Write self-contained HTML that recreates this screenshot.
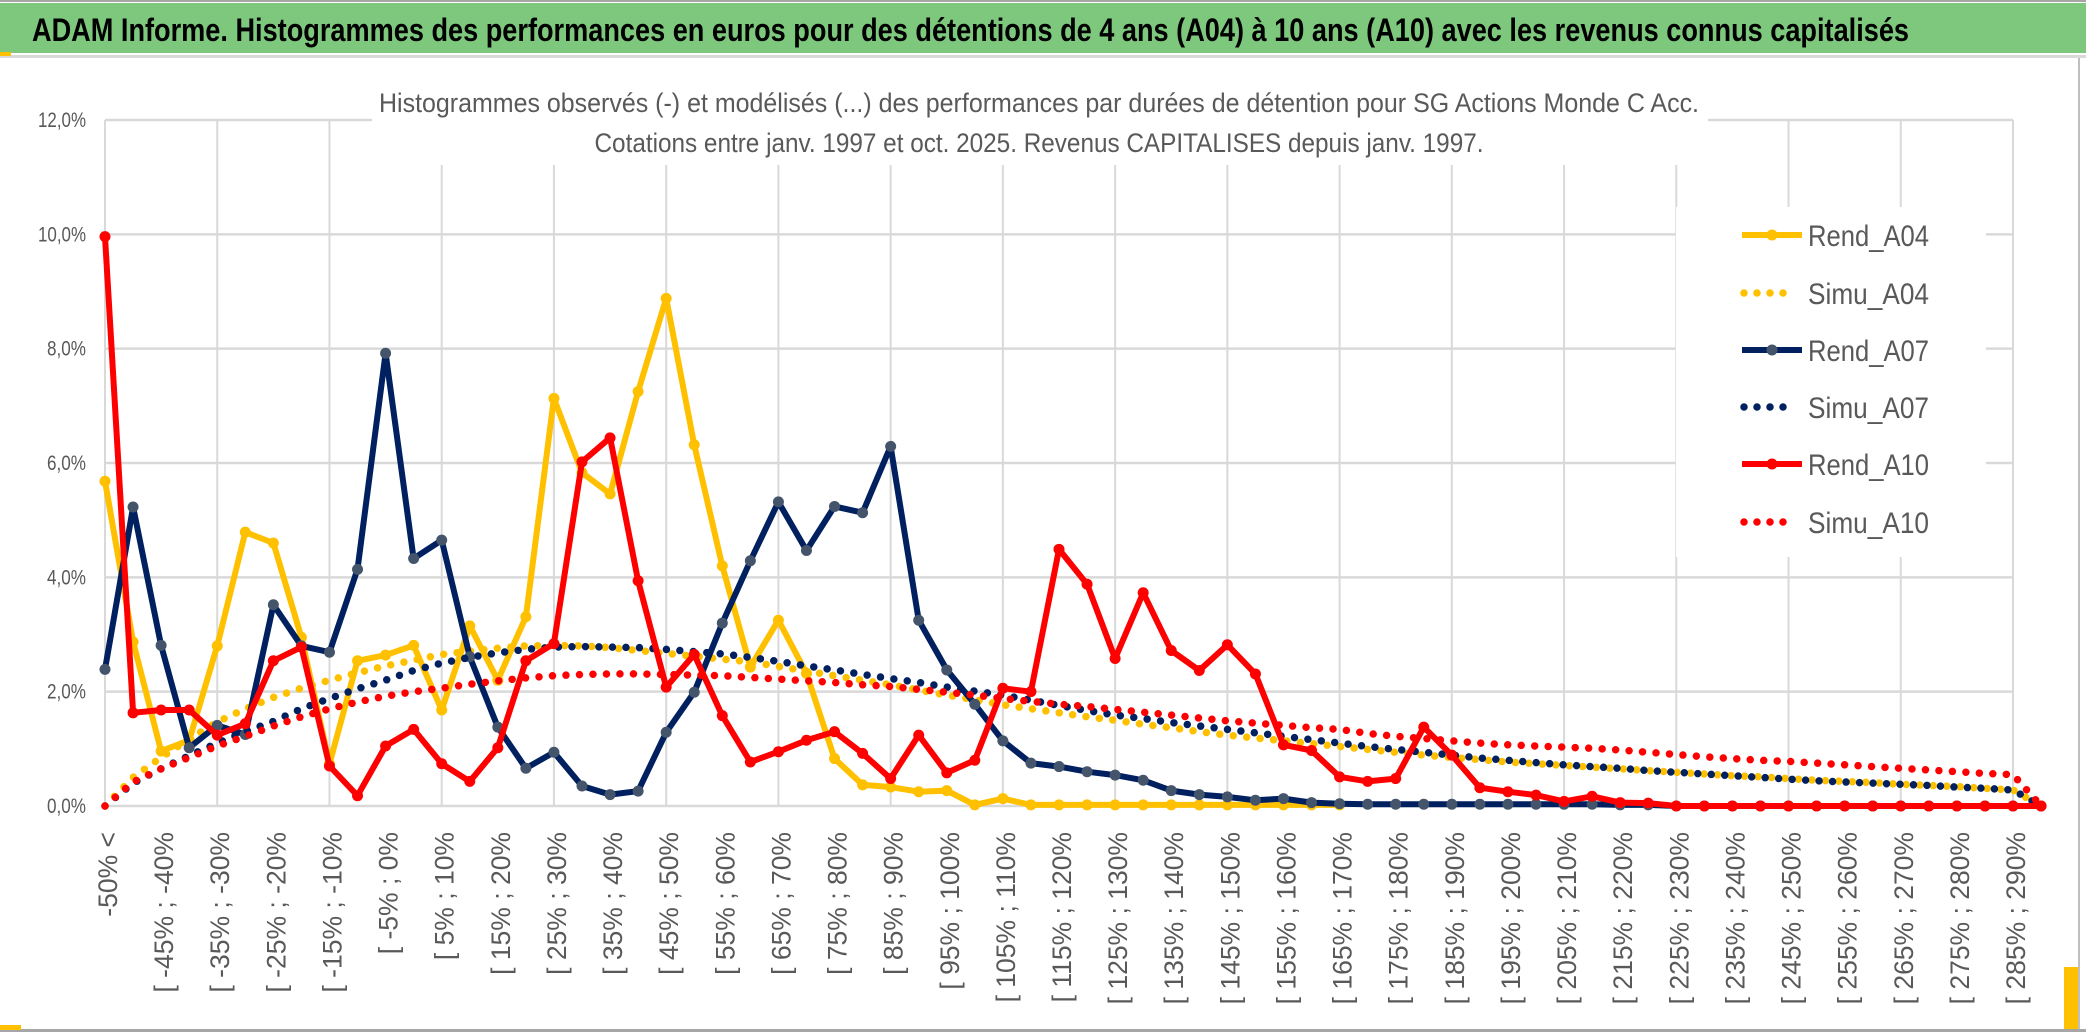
<!DOCTYPE html>
<html><head><meta charset="utf-8"><style>
html,body{margin:0;padding:0;background:#fff;}
svg{display:block;}
</style></head><body>
<svg id="chart" width="2086" height="1033" viewBox="0 0 2086 1033" xmlns="http://www.w3.org/2000/svg">
<rect x="0" y="0" width="2086" height="1033" fill="#fff"/>
<rect x="0" y="0" width="2086" height="2" fill="#a6a6a6"/>
<rect x="0" y="3" width="2086" height="50" fill="#7ec87e"/>
<rect x="0" y="55" width="2086" height="3" fill="#d9d9d9"/>
<rect x="0" y="52" width="11" height="4" fill="#ffc000"/>
<text x="32" y="41" font-family="'Liberation Sans Narrow','Liberation Sans',sans-serif" font-weight="bold" font-size="32" fill="#000" textLength="1877" lengthAdjust="spacingAndGlyphs">ADAM Informe. Histogrammes des performances en euros pour des détentions de 4 ans (A04) à 10 ans (A10) avec les revenus connus capitalisés</text>
<rect x="2078" y="58" width="2" height="972" fill="#bfbfbf"/>
<rect x="0" y="1029" width="2086" height="3" fill="#a6a6a6"/>
<rect x="0" y="1025" width="21" height="5" fill="#ffc000"/>
<rect x="2064" y="967" width="14" height="62" fill="#ffc000"/>
<g id="grid"></g>
<rect x="372" y="115" width="1336" height="50" fill="#fff"/>
<text x="1039" y="112" text-anchor="middle" font-family="'Liberation Sans Narrow','Liberation Sans',sans-serif" font-size="27" fill="#595959" textLength="1320" lengthAdjust="spacingAndGlyphs">Histogrammes observés (-) et modélisés (...) des performances par durées de détention pour SG Actions Monde C Acc.</text>
<text x="1039" y="152" text-anchor="middle" font-family="'Liberation Sans Narrow','Liberation Sans',sans-serif" font-size="27" fill="#595959" textLength="889" lengthAdjust="spacingAndGlyphs">Cotations entre janv. 1997 et oct. 2025. Revenus CAPITALISES depuis janv. 1997.</text>
<g id="series"></g>
<g id="legend"></g>
</svg>
<script>
const categories = ["-50% <"];
for (let k = -50; k < 290; k += 5) categories.push("[ " + k + "% ; " + (k + 5) + "%");
const yTicks = [0, 2, 4, 6, 8, 10, 12];
const yTickLabels = ["0,0%", "2,0%", "4,0%", "6,0%", "8,0%", "10,0%", "12,0%"];
const rendA04 = [5.68,2.87,0.96,1.15,2.8,4.79,4.6,2.95,0.74,2.54,2.64,2.81,1.68,3.15,2.2,3.31,7.13,5.83,5.46,7.25,8.88,6.32,4.2,2.43,3.25,2.32,0.83,0.37,0.33,0.25,0.27,0.02,0.13,0.02,0.02,0.02,0.02,0.02,0.02,0.02,0.02,0.02,0.02,0.02,0.02,null,null,null,null,null,null,null,null,null,null,null,null,null,null,null,null,null,null,null,null,null,null,null,null,null];
const simuA04 = [0,0.5,0.85,1.17,1.47,1.7,1.9,2.06,2.2,2.33,2.45,2.55,2.65,2.71,2.76,2.8,2.81,2.8,2.77,2.72,2.67,2.62,2.57,2.52,2.44,2.36,2.28,2.2,2.12,2.03,1.94,1.86,1.77,1.7,1.63,1.56,1.5,1.43,1.37,1.3,1.24,1.19,1.14,1.09,1.04,0.99,0.94,0.89,0.85,0.81,0.77,0.74,0.71,0.68,0.65,0.62,0.59,0.56,0.53,0.51,0.48,0.45,0.43,0.41,0.38,0.36,0.34,0.31,0.28,0];
const rendA07 = [2.39,5.23,2.81,1.02,1.41,1.25,3.52,2.8,2.69,4.14,7.92,4.33,4.65,2.61,1.38,0.66,0.94,0.35,0.2,0.26,1.29,1.99,3.2,4.29,5.32,4.47,5.24,5.13,6.29,3.25,2.38,1.78,1.14,0.75,0.69,0.6,0.54,0.45,0.27,0.2,0.16,0.1,0.13,0.06,0.04,0.03,0.03,0.03,0.03,0.03,0.03,0.03,0.03,0.03,0.02,0.02,0,0,0,0,0,0,0,0,0,0,0,0,0,0];
const simuA07 = [0,0.4,0.65,0.88,1.1,1.3,1.48,1.7,1.88,2.05,2.2,2.37,2.5,2.6,2.68,2.74,2.78,2.79,2.78,2.77,2.74,2.7,2.66,2.6,2.53,2.45,2.38,2.3,2.23,2.16,2.08,2.01,1.94,1.85,1.76,1.67,1.59,1.53,1.46,1.4,1.34,1.28,1.22,1.16,1.1,1.04,0.99,0.94,0.89,0.84,0.8,0.76,0.72,0.69,0.66,0.62,0.59,0.56,0.53,0.5,0.47,0.44,0.42,0.4,0.38,0.36,0.33,0.31,0.28,0];
const rendA10 = [9.96,1.63,1.68,1.68,1.24,1.44,2.54,2.78,0.7,0.18,1.05,1.34,0.74,0.43,1.02,2.54,2.84,6.02,6.44,3.94,2.08,2.65,1.58,0.77,0.95,1.15,1.3,0.92,0.48,1.24,0.58,0.8,2.06,2.0,4.49,3.88,2.58,3.73,2.72,2.37,2.82,2.31,1.07,0.97,0.51,0.43,0.48,1.38,0.89,0.32,0.25,0.19,0.08,0.17,0.06,0.05,0,0,0,0,0,0,0,0,0,0,0,0,0,0];
const simuA10 = [0,0.42,0.65,0.85,1.05,1.22,1.4,1.56,1.7,1.82,1.92,2.0,2.06,2.13,2.19,2.24,2.28,2.3,2.31,2.31,2.3,2.29,2.28,2.25,2.22,2.19,2.16,2.12,2.09,2.04,1.99,1.94,1.88,1.83,1.78,1.74,1.69,1.64,1.59,1.54,1.49,1.45,1.41,1.37,1.34,1.27,1.22,1.18,1.14,1.1,1.07,1.05,1.03,1.01,0.98,0.94,0.9,0.86,0.83,0.8,0.78,0.75,0.72,0.69,0.66,0.63,0.6,0.57,0.55,0];
const seriesNames = ["Rend_A04","Simu_A04","Rend_A07","Simu_A07","Rend_A10","Simu_A10"];

const NS = "http://www.w3.org/2000/svg";
const X0 = 105, X1 = 2013, Y0 = 806, Y1 = 120, YMAX = 12;
function xPos(i){ return X0 + i * (X1 - X0) / (categories.length - 1); }
function yPos(v){ return Y0 - v * (Y0 - Y1) / YMAX; }
function mk(tag, attrs, parent){ const e = document.createElementNS(NS, tag); for (const k in attrs) e.setAttribute(k, attrs[k]); parent.appendChild(e); return e; }

const grid = document.getElementById("grid");
yTicks.forEach((t, k) => {
  const l = mk("line", {x1: X0, x2: X1, y1: yPos(t), y2: yPos(t), stroke: "#d9d9d9", "stroke-width": 2.5}, grid);
  
  
  const lab = yTickLabels[k];
  const tx = mk("text", {x: 86, y: yPos(t) + 7, "text-anchor": "end", "font-family": "'Liberation Sans Narrow','Liberation Sans',sans-serif", "font-size": 21, fill: "#595959", textLength: lab.length > 4 ? 48 : 39, lengthAdjust: "spacingAndGlyphs"}, grid);
  tx.textContent = lab;
  
  
});
for (let i = 0; i < categories.length; i += 4) {
  const l = mk("line", {x1: xPos(i), x2: xPos(i), y1: Y1, y2: Y0, stroke: "#d9d9d9", "stroke-width": 2}, grid);
  
  
}
for (let i = 0; i < categories.length; i += 2) {
  const x = xPos(i) + 12;
  const tx = mk("text", {x: x, y: 832, transform: "rotate(-90 " + x + " 832)", "text-anchor": "end", "font-family": "'Liberation Sans',sans-serif", "font-size": 26.5, fill: "#595959"}, grid);
  tx.textContent = categories[i];
  
  
}

const sg = document.getElementById("series");
function drawRend(data, color, markerFill, name){
  const g = mk("g", {}, sg);
  
  
  let d = "", pen = false;
  data.forEach((v, i) => { if (v === null) { pen = false; return; } d += (pen ? "L" : "M") + xPos(i).toFixed(1) + " " + yPos(v).toFixed(1) + " "; pen = true; });
  const p = mk("path", {d: d, fill: "none", stroke: color, "stroke-width": 6, "stroke-linejoin": "round"}, g);
  
  
  data.forEach((v, i) => {
    if (v === null) return;
    const c = mk("circle", {cx: xPos(i), cy: yPos(v), r: 5.5, fill: markerFill}, g);
    
    
  });
}
function drawSimu(data, color, name){
  let d = "";
  data.forEach((v, i) => { d += (i ? "L" : "M") + xPos(i).toFixed(1) + " " + yPos(v).toFixed(1) + " "; });
  const p = mk("path", {d: d, fill: "none", stroke: color, "stroke-width": 7.5, "stroke-linecap": "round", "stroke-dasharray": "0 13.5"}, sg);
  
  
}
drawRend(rendA04, "#ffc000", "#ffc000", "rend-a04");
drawSimu(simuA04, "#ffc000", "simu-a04");
drawRend(rendA07, "#002060", "#44546a", "rend-a07");
drawSimu(simuA07, "#002060", "simu-a07");
drawRend(rendA10, "#ff0000", "#ff0000", "rend-a10");
drawSimu(simuA10, "#ff0000", "simu-a10");

const lg = document.getElementById("legend");
const lbg = mk("rect", {x: 1676, y: 207, width: 310, height: 350, fill: "#fff"}, lg);


const legColors = ["#ffc000","#ffc000","#002060","#002060","#ff0000","#ff0000"];
const legMarker = ["#ffc000",null,"#44546a",null,"#ff0000",null];
const legY = [235, 293, 350, 407, 464, 522];
seriesNames.forEach((n, k) => {
  const y = legY[k];
  if (legMarker[k]) {
    const l = mk("line", {x1: 1742, x2: 1802, y1: y, y2: y, stroke: legColors[k], "stroke-width": 6}, lg);
    
    
    const c = mk("circle", {cx: 1772, cy: y, r: 5.5, fill: legMarker[k]}, lg);
    
    
  } else {
    const l = mk("line", {x1: 1744, x2: 1794, y1: y, y2: y, stroke: legColors[k], "stroke-width": 7.5, "stroke-linecap": "round", "stroke-dasharray": "0 13"}, lg);
    
    
  }
  const t = mk("text", {x: 1808, y: y + 11, "font-family": "'Liberation Sans Narrow','Liberation Sans',sans-serif", "font-size": 30, fill: "#595959", textLength: 121, lengthAdjust: "spacingAndGlyphs"}, lg);
  t.textContent = n;
  
  
});
</script>
</body></html>
